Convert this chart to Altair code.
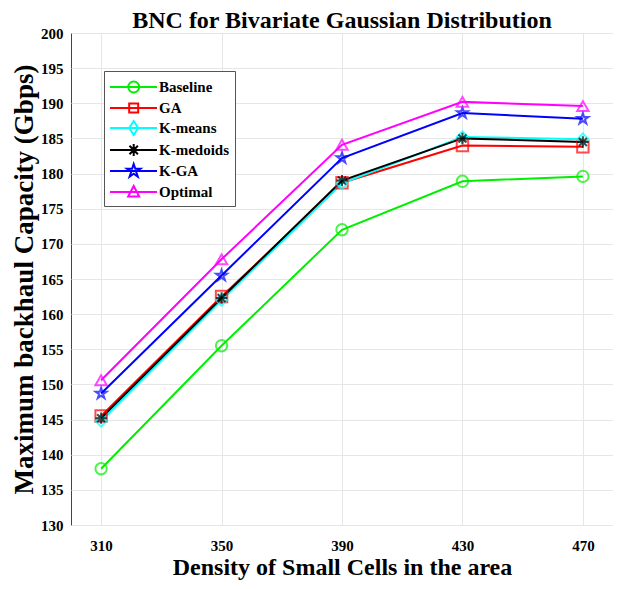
import altair as alt
import pandas as pd

densities = [310, 350, 390, 430, 470]
series_names = ["Baseline", "GA", "K-means", "K-medoids", "K-GA", "Optimal"]
baseline = [138.0, 155.5, 172.0, 178.9, 179.6]
ga = [145.5, 162.5, 178.7, 184.0, 183.8]
kmeans = [144.8, 162.0, 178.6, 185.2, 184.9]
kmedoids = [145.2, 162.3, 179.0, 185.0, 184.5]
kga = [148.7, 165.5, 182.2, 188.6, 187.8]
optimal = [150.6, 167.8, 184.1, 190.2, 189.6]
y_ticks = list(range(130, 201, 5))

colors = ["#00ee00", "#ff0000", "#00ffff", "#000000", "#0000ff", "#ff00ff"]
star = "M0,-1L0.225,-0.309L0.951,-0.309L0.363,0.118L0.588,0.809L0,0.382L-0.588,0.809L-0.363,0.118L-0.951,-0.309L-0.225,-0.309Z"
aster = "M0,-1L0,1M-1,0L1,0M-0.7,-0.7L0.7,0.7M-0.7,0.7L0.7,-0.7"
shapes = ["circle", "square", "diamond", aster, star, "triangle-up"]

# legend glyphs: a line with the marker in its middle (unit = 10 px at symbolSize 400)
LN = "M-1,0L3.7,0"
leg_shapes = [
    LN + "M1.92,0A0.55,0.55 0 1,1 0.82,0A0.55,0.55 0 1,1 1.92,0",
    LN + "M0.92,-0.45L1.82,-0.45L1.82,0.45L0.92,0.45Z",
    LN + "M1.37,-0.7L1.82,0L1.37,0.7L0.92,0Z",
    LN + "M1.37,-0.6L1.37,0.6M0.77,0L1.97,0M0.95,-0.42L1.79,0.42M0.95,0.42L1.79,-0.42",
    LN + "M1.37,-0.7L1.53,-0.22L2.04,-0.22L1.62,0.08L1.78,0.57L1.37,0.27L0.96,0.57L1.12,0.08L0.70,-0.22L1.21,-0.22Z",
    LN + "M1.37,-0.6L1.92,0.45L0.82,0.45Z",
]

rows = []
for name, vals in zip(series_names, [baseline, ga, kmeans, kmedoids, kga, optimal]):
    for d, v in zip(densities, vals):
        rows.append({"density": d, "capacity": v, "series": name})
df = pd.DataFrame(rows)

FONT = "Liberation Serif"

x = alt.X("density:Q", scale=alt.Scale(domain=[300, 480], nice=False),
          axis=alt.Axis(values=densities, title="Density of Small Cells in the area",
                        labelPadding=13, titlePadding=2))
y = alt.Y("capacity:Q", scale=alt.Scale(domain=[130, 200], nice=False),
          axis=alt.Axis(values=y_ticks, title="Maximum backhaul Capacity (Gbps)",
                        labelPadding=8, titlePadding=2))
color_scale = alt.Scale(domain=series_names, range=colors)
leg = dict(title=None, orient="none", legendX=33, legendY=38,
           symbolStrokeWidth=2, symbolSize=400, symbolOpacity=1,
           symbolFillColor="transparent",
           fillColor="white", strokeColor="#555555",
           padding=5, rowPadding=-1, labelFontSize=15, labelOffset=28,
           labelFont=FONT, labelFontWeight="bold", labelColor="black")

lines = alt.Chart(df).mark_line(strokeWidth=2).encode(
    x=x, y=y, color=alt.Color("series:N", scale=color_scale, legend=None),
    detail="series:N", order="density:Q")
points = alt.Chart(df).mark_point(filled=False, size=130, strokeWidth=2).encode(
    x=x, y=y, color=alt.Color("series:N", scale=color_scale, legend=None),
    shape=alt.Shape("series:N", scale=alt.Scale(domain=series_names, range=shapes), legend=None))
legend_layer = alt.Chart(df).mark_point(filled=False, opacity=0).encode(
    x=x, y=y,
    color=alt.Color("series:N", scale=color_scale, legend=alt.Legend(**leg)),
    shape=alt.Shape("series:N", scale=alt.Scale(domain=series_names, range=leg_shapes),
                    legend=alt.Legend(**leg)))

chart = alt.layer(lines, points, legend_layer).resolve_scale(
    shape="independent", color="independent"
).properties(
    width=542, height=492,
    autosize=alt.AutoSizeParams(type="none"),
    padding={"left": 63, "top": 25, "right": 0, "bottom": 56},
    title=alt.TitleParams("BNC for Bivariate Gaussian Distribution", font=FONT,
                          fontSize=24, fontWeight="bold", color="black", offset=0, dy=7),
).configure_axis(
    labelFont=FONT, labelFontSize=15, labelFontWeight="bold", labelColor="black",
    titleFont=FONT, titleFontWeight="bold", titleColor="black",
    grid=True, gridColor="#e6e6e6", domain=False, ticks=False,
).configure_axisX(titleFontSize=24).configure_axisY(titleFontSize=27).configure_view(
    stroke="#444444", strokeWidth=1)

chart.save("out.html", embed_options={"renderer": "svg", "actions": False})
